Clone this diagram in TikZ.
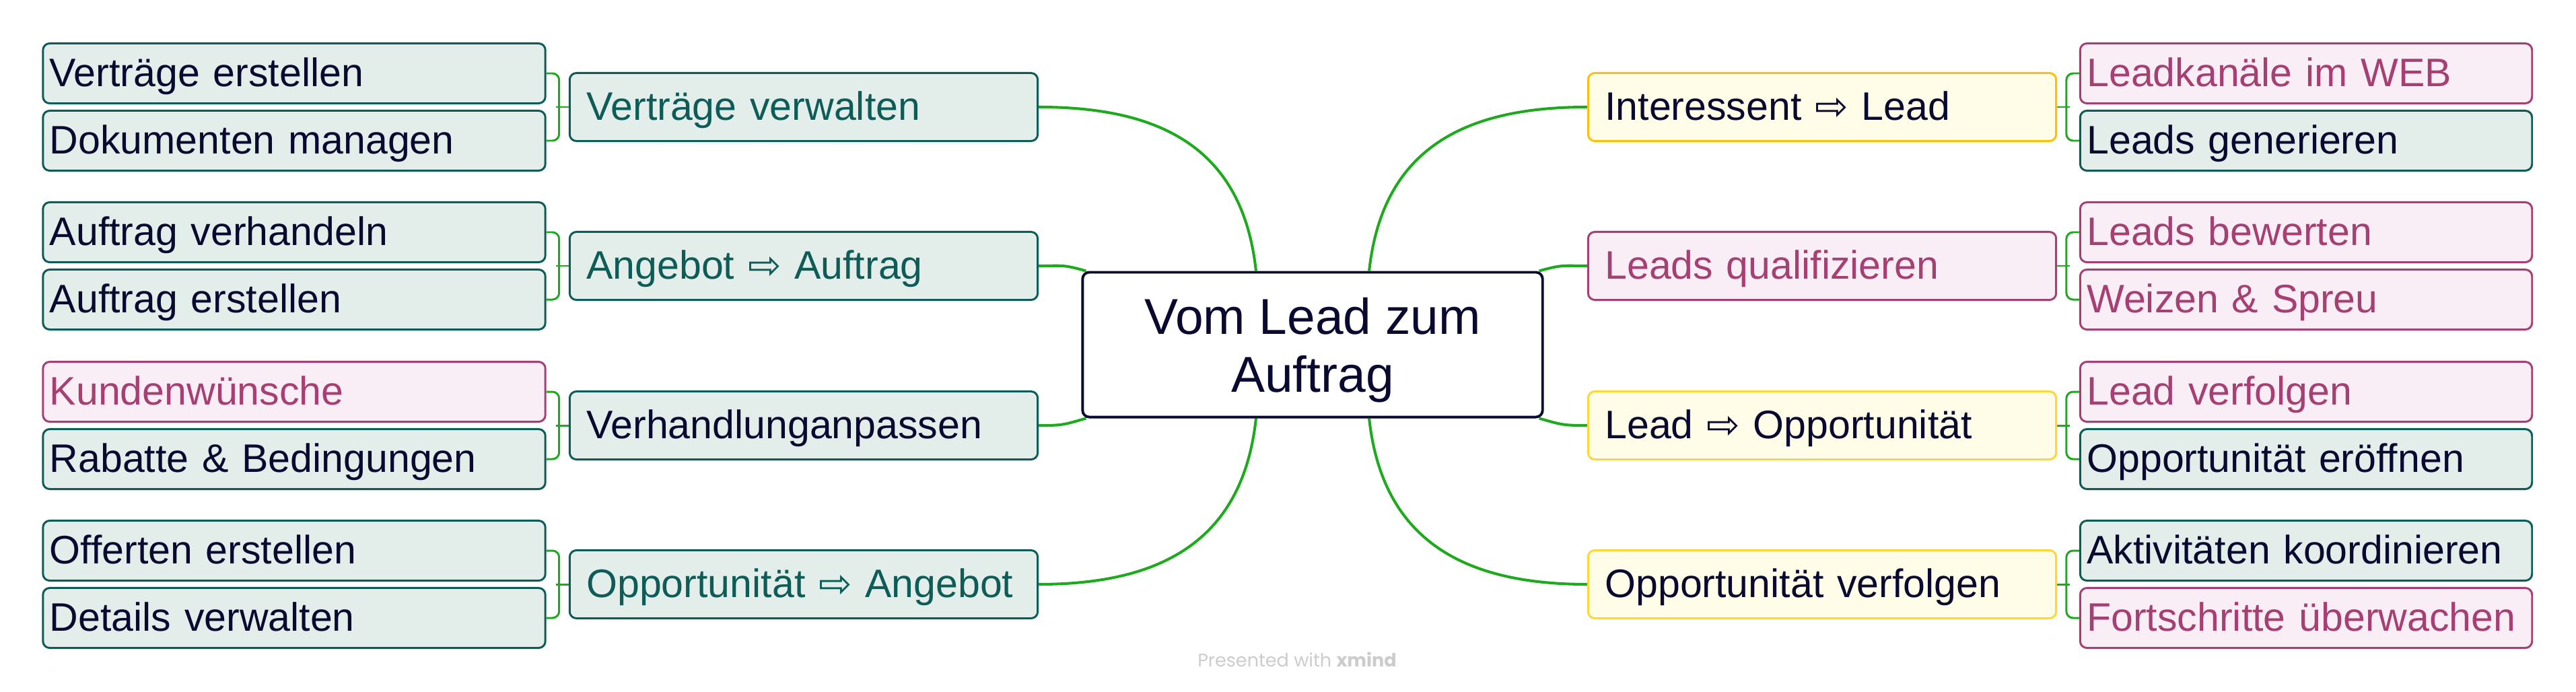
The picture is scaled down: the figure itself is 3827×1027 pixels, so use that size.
\documentclass[tikz,border=0pt]{standalone}
\usepackage{fontspec}
\setmainfont{Liberation Sans}
\newfontfamily\arrowfont{DejaVu Sans}
\newfontfamily\wmfont{Poppins}
\usetikzlibrary{backgrounds}

\definecolor{tealline}{HTML}{0D5C58}
\definecolor{tealfill}{HTML}{E3EDE9}
\definecolor{pinkline}{HTML}{A63F72}
\definecolor{pinkfill}{HTML}{FAEEF6}
\definecolor{amber}{HTML}{FFC107}
\definecolor{gold}{HTML}{FDD835}
\definecolor{creamfill}{HTML}{FFFDE7}
\definecolor{navy}{HTML}{0A0A30}
\definecolor{branchgreen}{HTML}{1DAA1D}
\definecolor{wmgray}{HTML}{CCCCCC}

\newcommand{\thenarrow}{{\arrowfont ⇨}}

\begin{document}
\begin{tikzpicture}[x=0.01cm, y=-0.01cm,
  box/.style={rounded corners=0.1cm, line width=0.85pt, inner xsep=0.1cm, inner ysep=0pt,
    text height=0.5cm, text depth=0.12cm, align=left, font=\fontsize{16.8pt}{20pt}\selectfont},
  leafL/.style={box, text width=7.26cm, minimum height=0.89cm},
  leafR/.style={box, text width=6.51cm, minimum height=0.89cm},
  topic/.style={box, inner xsep=0.25cm, text width=6.45cm, minimum height=1.01cm},
  tealbox/.style={draw=tealline, fill=tealfill, text=navy},
  pinkbox/.style={draw=pinkline, fill=pinkfill, text=pinkline},
  goldbox/.style={draw=gold, fill=creamfill, text=navy},
  branch/.style={draw=branchgreen, line width=1.15pt},
  brace/.style={draw=branchgreen, line width=0.85pt, rounded corners=0.1cm}]

  \useasboundingbox (0,0) rectangle (3827,1027);

  \node[draw=navy, fill=white, line width=1.1pt, rounded corners=0.1cm,
    minimum width=6.83cm, minimum height=2.15cm, align=center, text=navy,
    text height=1.56cm, text depth=0.16cm, inner ysep=0pt,
    font=\fontsize{21.3pt}{24.2pt}\selectfont] (c) at (1950,512) {Vom Lead zum\\Auftrag};

  \node[topic, tealbox, text=tealline] (vv) at (1194,159) {Verträge verwalten};
  \node[topic, tealbox, text=tealline] (ag) at (1194,395) {Angebot \thenarrow{} Auftrag};
  \node[topic, tealbox] (vh) at (1194,632) {Verhandlunganpassen};
  \node[topic, tealbox, text=tealline] (oa) at (1194,868) {Opportunität \thenarrow{} Angebot};

  \node[leafL, tealbox] (ve) at (437,109) {Verträge erstellen};
  \node[leafL, tealbox] (dm) at (437,209) {Dokumenten managen};
  \node[leafL, tealbox] (av) at (437,345) {Auftrag verhandeln};
  \node[leafL, tealbox] (ae) at (437,445) {Auftrag erstellen};
  \node[leafL, pinkbox] (kw) at (437,582) {Kundenwünsche};
  \node[leafL, tealbox] (rb) at (437,682) {Rabatte \& Bedingungen};
  \node[leafL, tealbox] (oe) at (437,818) {Offerten erstellen};
  \node[leafL, tealbox] (dv) at (437,918) {Details verwalten};

  \node[topic, goldbox, draw=amber] (il) at (2707,159) {Interessent \thenarrow{} Lead};
  \node[topic, pinkbox] (lq) at (2707,395) {Leads qualifizieren};
  \node[topic, goldbox] (lo) at (2707,632) {Lead \thenarrow{} Opportunität};
  \node[topic, goldbox] (ov) at (2707,868) {Opportunität verfolgen};

  \node[leafR, pinkbox] (lk) at (3426,109) {Leadkanäle im WEB};
  \node[leafR, tealbox] (lg) at (3426,209) {Leads generieren};
  \node[leafR, pinkbox] (lb) at (3426,345) {Leads bewerten};
  \node[leafR, pinkbox] (ws) at (3426,445) {Weizen \& Spreu};
  \node[leafR, pinkbox] (lv) at (3426,582) {Lead verfolgen};
  \node[leafR, tealbox] (oz) at (3426,682) {Opportunität eröffnen};
  \node[leafR, tealbox] (ak) at (3426,818) {Aktivitäten koordinieren};
  \node[leafR, pinkbox] (fu) at (3426,918) {Fortschritte überwachen};

  \node[font=\wmfont\fontsize{7.7pt}{9pt}\selectfont, text=wmgray] (wm) at (1927,980)
    {Presented with \textbf{xmind}};

  \begin{scope}[on background layer]
    \fill[white] (0,0) rectangle (3827,1027);

    \draw[branch] ([xshift=-0.84cm]c.north) .. controls +(-20,-185) and +(178,0) .. (vv.east);
    \draw[branch] ([xshift=0.07cm]c.north west) .. controls +(-35,-10) and +(35,0) .. (ag.east);
    \draw[branch] ([xshift=0.07cm]c.south west) .. controls +(-35,10) and +(35,0) .. (vh.east);
    \draw[branch] ([xshift=-0.84cm]c.south) .. controls +(-20,185) and +(178,0) .. (oa.east);
    \draw[branch] ([xshift=0.84cm]c.north) .. controls +(20,-185) and +(-178,0) .. (il.west);
    \draw[branch] ([xshift=-0.07cm]c.north east) .. controls +(35,-10) and +(-35,0) .. (lq.west);
    \draw[branch] ([xshift=-0.07cm]c.south east) .. controls +(35,10) and +(-35,0) .. (lo.west);
    \draw[branch] ([xshift=0.84cm]c.south) .. controls +(20,185) and +(-178,0) .. (ov.west);

    \draw[brace] (ve.east) -- ++(19,0) |- (dm.east);
    \draw[brace] (av.east) -- ++(19,0) |- (ae.east);
    \draw[brace] (kw.east) -- ++(19,0) |- (rb.east);
    \draw[brace] (oe.east) -- ++(19,0) |- (dv.east);
    \draw[brace] (vv.west) -- ++(-19,0);
    \draw[brace] (ag.west) -- ++(-19,0);
    \draw[brace] (vh.west) -- ++(-19,0);
    \draw[brace] (oa.west) -- ++(-19,0);

    \draw[brace] (lk.west) -- ++(-19,0) |- (lg.west);
    \draw[brace] (lb.west) -- ++(-19,0) |- (ws.west);
    \draw[brace] (lv.west) -- ++(-19,0) |- (oz.west);
    \draw[brace] (ak.west) -- ++(-19,0) |- (fu.west);
    \draw[brace] (il.east) -- ++(19,0);
    \draw[brace] (lq.east) -- ++(19,0);
    \draw[brace] (lo.east) -- ++(19,0);
    \draw[brace] (ov.east) -- ++(19,0);
  \end{scope}
\end{tikzpicture}
\end{document}
